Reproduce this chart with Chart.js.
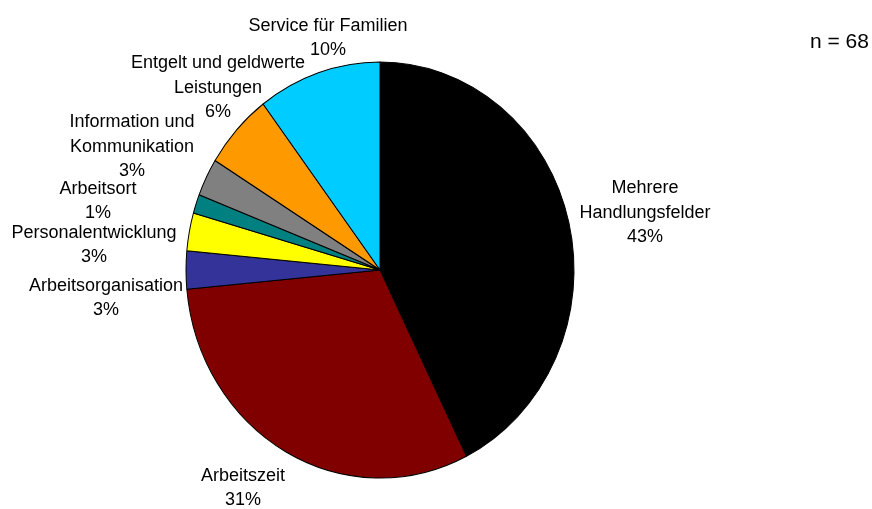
<!DOCTYPE html>
<html>
<head>
<meta charset="utf-8">
<script src="https://cdn.jsdelivr.net/npm/chart.js@4"></script>
<style>
  html, body { margin: 0; padding: 0; background: #fff; }
  #wrap { width: 872px; height: 509px; position: relative; }
</style>
</head>
<body>
<div id="wrap"><canvas id="pieChart" width="872" height="509"></canvas></div>
<script>
// Handlungsfelder, clockwise from 12 o'clock
const categories = [
    ['Mehrere', 'Handlungsfelder'],
    ['Arbeitszeit'],
    ['Arbeitsorganisation'],
    ['Personalentwicklung'],
    ['Arbeitsort'],
    ['Information und', 'Kommunikation'],
    ['Entgelt und geldwerte', 'Leistungen'],
    ['Service für Familien']
];
// number of answers (n = 68)
const counts = [29, 21, 2, 2, 1, 2, 4, 7];
const percentLabels = ['43%', '31%', '3%', '3%', '1%', '3%', '6%', '10%'];
const sampleSize = 68;

const sliceColors = ['#000000', '#800000', '#333399', '#ffff00', '#008080', '#808080', '#ff9900', '#00ccff'];

// centre of each label block (text placement only)
const labelCenters = [
    [645, 213], [243, 488], [106, 298], [94, 245],
    [98, 201], [132, 147], [218, 88], [328, 38]
];

// the original pie is slightly taller than wide
const stretchY = 208 / 194;

const ellipsePlugin = {
    id: 'ellipse',
    beforeDatasetsDraw(chart) {
        const arc = chart.getDatasetMeta(0).data[0];
        const ctx = chart.ctx;
        ctx.save();
        ctx.translate(arc.x, arc.y);
        ctx.scale(1, stretchY);
        ctx.translate(-arc.x, -arc.y);
    },
    afterDatasetsDraw(chart) {
        chart.ctx.restore();
    }
};

const labelPlugin = {
    id: 'sliceLabels',
    afterDraw(chart) {
        const ctx = chart.ctx;
        ctx.save();
        ctx.font = '18px "Liberation Sans", Arial, sans-serif';
        ctx.fillStyle = '#000';
        ctx.textAlign = 'center';
        ctx.textBaseline = 'middle';
        const lineH = 24.5;
        categories.forEach((lines, i) => {
            const all = lines.concat([percentLabels[i]]);
            const [cx, cy] = labelCenters[i];
            const top = cy - (all.length - 1) * lineH / 2;
            all.forEach((t, j) => ctx.fillText(t, cx, top + j * lineH));
        });
        ctx.font = '21px "Liberation Sans", Arial, sans-serif';
        ctx.textAlign = 'left';
        ctx.fillText('n = ' + sampleSize, 810, 42);
        ctx.restore();
    }
};

const chart = new Chart(document.getElementById('pieChart'), {
    type: 'pie',
    data: {
        labels: categories.map(c => c.join(' ')),
        datasets: [{
            data: counts,
            backgroundColor: sliceColors,
            borderColor: '#000',
            borderWidth: 1
        }]
    },
    options: {
        responsive: false,
        animation: false,
        radius: 194,
        layout: { padding: { left: 0, right: 112, top: 31, bottom: 0 } },
        plugins: {
            legend: { display: false },
            tooltip: { enabled: false }
        }
    },
    plugins: [ellipsePlugin, labelPlugin]
});
</script>
</body>
</html>
